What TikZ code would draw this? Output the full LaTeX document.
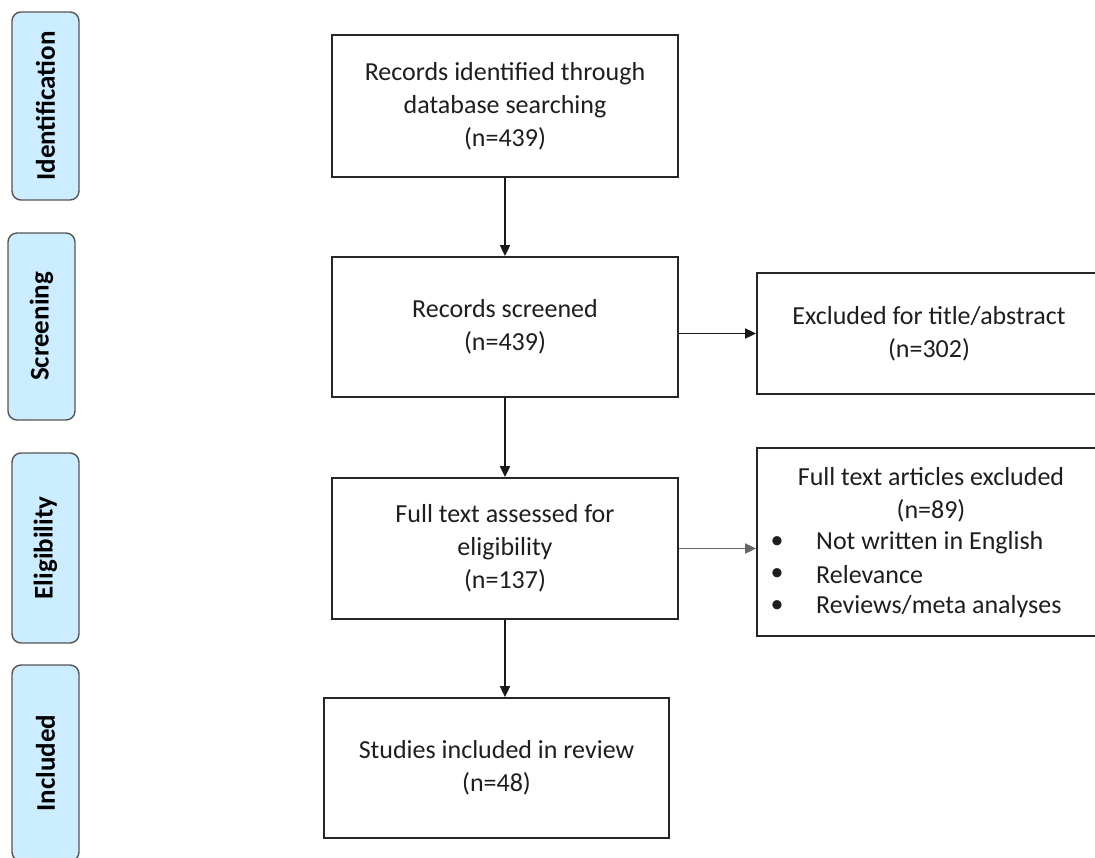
\documentclass[tikz,border=0pt]{standalone}
\usepackage{fontspec}
\setmainfont{Carlito}
\usetikzlibrary{arrows.meta}
\definecolor{phasefill}{RGB}{204,236,255}
\definecolor{phaseline}{RGB}{85,85,85}
\definecolor{txtc}{RGB}{30,30,30}
\begin{document}
\begin{tikzpicture}[x=1pt,y=-1pt,
  box/.style={draw=black!85, line width=1.8pt, inner sep=0pt, rectangle},
  phase/.style={draw=phaseline, fill=phasefill, line width=1.4pt, rounded corners=9pt, rotate=90, inner sep=0pt, minimum height=67pt, font=\fontsize{27}{30}\selectfont\bfseries, text=black},
  txt/.style={align=center, font=\fontsize{26}{33}\selectfont, text=txtc},
  item/.style={inner sep=0pt, anchor=west, font=\fontsize{26}{33}\selectfont, text=txtc},
  arr/.style={-{Triangle[length=11pt,width=10pt]}, line width=1.8pt, draw=black!90}]
\clip (0,0) rectangle (1095,857);
\fill[white] (0,0) rectangle (1095,857);

% phase labels
\node[phase, minimum width=188pt] (pid) at (45.5,106) {Identification};
\node[phase, minimum width=187pt] (psc) at (41.5,326.5) {Screening};
\node[phase, minimum width=190pt] (pel) at (45.5,548) {Eligibility};
\node[phase, minimum width=196pt] (pin) at (45.5,763) {Included};

% main boxes
\node[box, txt, minimum width=346pt, minimum height=142pt] (b1) at (505,106) {Records identified through\\database searching\\(n=439)};
\node[box, txt, minimum width=346pt, minimum height=140pt] (b2) at (505,327) {Records screened\\(n=439)};
\node[box, txt, minimum width=346pt, minimum height=141pt] (b3) at (505,548.5) {Full text assessed for\\eligibility\\(n=137)};
\node[box, txt, minimum width=345pt, minimum height=140pt] (b4) at (496.5,768) {Studies included in review\\(n=48)};

% exclusion boxes
\node[box, txt, minimum width=344pt, minimum height=121pt] (e1) at (929,333.5) {Excluded for title/abstract\\(n=302)};
\node[box, minimum width=344pt, minimum height=188pt] (e2) at (929,542) {};
\node[txt] (e2t) at (931,495) {Full text articles excluded\\(n=89)};
\node[item] (i1) at (816,543) {Not written in English};
\node[item] (i2) at (816,575) {Relevance};
\node[item] (i3) at (816,607) {Reviews/meta analyses};
\node[txt] (d1) at (777,543) {\textbullet};
\node[txt] (d2) at (777,575) {\textbullet};
\node[txt] (d3) at (777,607) {\textbullet};

% arrows
\draw[arr] (b1.south) -- (b2.north);
\draw[arr] (b2.south) -- (b3.north);
\draw[arr] (b3.south) -- (b3.south |- b4.north);
\draw[arr] (b2.east |- e1.west) -- (e1.west);
\draw[arr, draw=black!60] (b3.east) -- (b3.east -| e2.west);
\end{tikzpicture}
\end{document}
